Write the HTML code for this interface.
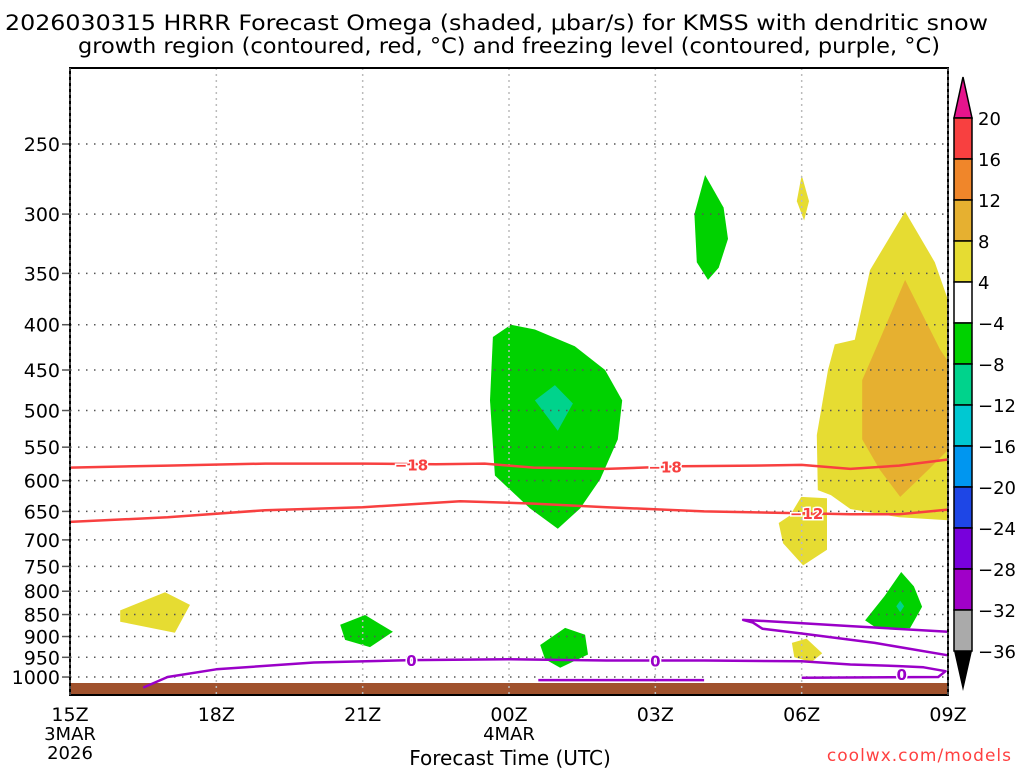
<!DOCTYPE html>
<html><head><meta charset="utf-8">
<style>
body{margin:0;background:#fff;width:1024px;height:768px;overflow:hidden}
svg text{font-family:"DejaVu Sans","Liberation Sans",sans-serif}
</style></head><body>
<svg id="chart" width="1024" height="768" xmlns="http://www.w3.org/2000/svg">
<text x="5" y="30" font-size="21" textLength="983" lengthAdjust="spacingAndGlyphs">2026030315 HRRR Forecast Omega (shaded, μbar/s) for KMSS with dendritic snow</text>
<text x="78" y="53" font-size="21" textLength="862" lengthAdjust="spacingAndGlyphs">growth region (contoured, red, °C) and freezing level (contoured, purple, °C)</text>
<g id="shades"></g><g id="grid"></g><g id="lines"></g><g id="axes"></g><g id="cbar"></g>
<text x="510" y="765" font-size="20" text-anchor="middle">Forecast Time (UTC)</text>
<text x="1012" y="761" font-size="17" fill="#ff4040" text-anchor="end" letter-spacing="1">coolwx.com/models</text>
</svg>
<script>
const pressureTicks=[250,300,350,400,450,500,550,600,650,700,750,800,850,900,950,1000];
const timeTicks=[0,3,6,9,12,15,18];
const timeLabels=["15Z","18Z","21Z","00Z","03Z","06Z","09Z"];
const cbarLevels=["20","16","12","8","4","−4","−8","−12","−16","−20","−24","−28","−32","−36"];
const cbarColors=["#f84040","#f0862a","#e6b030","#e6dc32","#ffffff","#00d200","#00d38c","#00c8d2","#0096f0","#1e46e6","#7800dc","#a000c8","#aaaaaa"];
// shaded regions [hours, hPa]
const yellowLeftH=[1.03,1.95,2.46,2.15,1.03],yellowLeftP=[841,802,829,891,866];
const green21H=[5.54,6.05,6.62,6.15,5.64],green21P=[873,851,889,925,908];
const green00H=[9.04,9.53,10.35,10.97,11.32,11.23,10.87,10.46,10.0,9.43,8.71,8.61,8.67],green00P=[400,405,423,450,487,539,598,645,680,645,592,487,413];
const teal00H=[9.94,10.31,10.0,9.53],teal00P=[468,491,527,487];
const green01H=[9.64,10.15,10.56,10.62,10.05,9.74],green01P=[920,880,896,943,976,955];
const green04H=[13.02,13.4,13.49,13.3,13.08,12.85,12.8],green04P=[271,295,320,345,356,340,300];
const yellowTopH=[15.0,15.15,15.05,14.9],yellowTopP=[271,290,305,290];
const yellowBigH=[17.12,17.73,18,18,17,16,15.6,15.33,15.31,15.54,15.68,16.09,16.4],yellowBigP=[298,340,375,665,660,646,623,615,533,450,421,416,347];
const orangeH=[17.12,17.43,17.84,18,18,17.6,17.02,16.6,16.24,16.24,16.6],orangeP=[356,385,427,440,554,583,626,583,539,462,416];
const yellowMidH=[14.99,15.52,15.52,15.03,14.62,14.53,14.76],yellowMidP=[626,628,718,748,706,670,657];
const yellowLowH=[14.8,15.1,15.42,15.2,14.85],yellowLowP=[915,905,940,962,950];
const greenRH=[17.04,17.3,17.47,17.22,16.54,16.3,16.7],greenRP=[761,790,833,881,881,863,810];
const tealRH=[17.02,17.1,17.02,16.94],tealRP=[820,832,845,832];
// contour lines
const m18H=[0,2,4,6,7.5,8.5,9.5,11,12.5,14,15,16,17,18],m18P=[580,577,574,574,575,574,580,582,578,577,576,582,577,568];
const m12H=[0,2,4,6,8,9.5,11,13,15,16,17,18],m12P=[668,660,648,643,633,637,643,650,653,655,655,647];
const z0H=[1.5,2,3,5,7,9,11,13,15,16,17,17.5,17.95,17.8,15],z0P=[1028,1000,980,963,957,955,958,958,960,968,972,975,985,1000,1002];
const z0bH=[9.6,13],z0bP=[1008,1008];
const z0cH=[18,16,14.5,13.8,14.0,14.2,15,16.5,18],z0cP=[889,876,866,862,868,882,893,915,945];

const L=70,R=948,T=68,B=695;
const X=h=>L+h*(R-L)/18;
const Y=p=>144+(Math.log(p)-Math.log(250))*384.5;
const NS="http://www.w3.org/2000/svg";
function mk(tag,parent,attrs){const e=document.createElementNS(NS,tag);for(const k in attrs)e.setAttribute(k,attrs[k]);document.getElementById(parent).appendChild(e);return e;}
function pts(H,P){return H.map((h,i)=>X(h).toFixed(1)+","+Y(P[i]).toFixed(1)).join(" ");}
function poly(H,P,fill,name){const e=mk("polygon","shades",{points:pts(H,P),fill:fill});

}
poly(yellowLeftH,yellowLeftP,"#e6dc32","omega-yellow-left");
poly(green21H,green21P,"#00d200","omega-green-21z");
poly(green00H,green00P,"#00d200","omega-green-00z");
poly(teal00H,teal00P,"#00d38c","omega-teal-00z");
poly(green01H,green01P,"#00d200","omega-green-01z");
poly(green04H,green04P,"#00d200","omega-green-04z");
poly(yellowTopH,yellowTopP,"#e6dc32","omega-yellow-top");
poly(yellowBigH,yellowBigP,"#e6dc32","omega-yellow-big");
poly(orangeH,orangeP,"#e6b030","omega-orange");
poly(yellowMidH,yellowMidP,"#e6dc32","omega-yellow-mid");
poly(yellowLowH,yellowLowP,"#e6dc32","omega-yellow-low");
poly(greenRH,greenRP,"#00d200","omega-green-right");
poly(tealRH,tealRP,"#00d38c","omega-teal-right");
// ground
const g=mk("rect","shades",{x:L,y:683,width:R-L,height:B-683,fill:"#a0522d"});


// grid
pressureTicks.forEach(p=>{const y=Y(p);
const l=mk("line","grid",{x1:L,x2:R,y1:y,y2:y,stroke:"#555","stroke-dasharray":"1.5 6.5","stroke-width":1.5});


const t=mk("text","axes",{x:60,y:y+7,"font-size":19,"text-anchor":"end"});t.textContent=p;


mk("line","axes",{x1:62,x2:L,y1:y,y2:y,stroke:"#555","stroke-width":1.5});
});
timeTicks.forEach((h,i)=>{const x=X(h);
if(i>0&&i<timeTicks.length-1){const l=mk("line","grid",{x1:x,x2:x,y1:T,y2:B,stroke:"#bbb","stroke-dasharray":"2 4","stroke-width":1.5});

}
const t=mk("text","axes",{x:x,y:721,"font-size":19,"text-anchor":"middle"});t.textContent=timeLabels[i];


});
[["3MAR",0,740],["2026",0,759],["4MAR",9,740]].forEach(a=>{const t=mk("text","axes",{x:X(a[1]),y:a[2],"font-size":18,"text-anchor":"middle"});t.textContent=a[0];

});
// lines
function pl(H,P,color,name,w){const e=mk("polyline","lines",{points:pts(H,P),fill:"none",stroke:color,"stroke-width":w||2.5,"stroke-linejoin":"round"});

}
pl(m18H,m18P,"#f84040","contour-minus18");
pl(m12H,m12P,"#f84040","contour-minus12");
pl(z0H,z0P,"#9a00c8","freezing-level-0");
pl(z0bH,z0bP,"#9a00c8","freezing-level-0-lower");
pl(z0cH,z0cP,"#9a00c8","freezing-level-0-loop");
function lab(h,p,txt,color,name){const x=X(h),y=Y(p);
const t=mk("text","lines",{x:x,y:y+6,"font-size":15,"font-weight":"bold",fill:color,"text-anchor":"middle",stroke:"#fff","stroke-width":3,"paint-order":"stroke"});t.textContent=txt;

}
lab(7.0,575,"−18","#f84040","label-minus18-a");
lab(12.2,578,"−18","#f84040","label-minus18-b");
lab(15.1,653,"−12","#f84040","label-minus12");
lab(7.0,957,"0","#9a00c8","label-zero-a");
lab(12.0,958,"0","#9a00c8","label-zero-b");
lab(17.05,992,"0","#9a00c8","label-zero-c");
// frame
const f=mk("rect","axes",{x:L,y:T,width:R-L,height:B-T,fill:"none",stroke:"#000","stroke-width":2});


mk("line","axes",{x1:L,x2:L,y1:T,y2:B,stroke:"#888","stroke-width":1,"stroke-dasharray":"3 3"});
mk("line","axes",{x1:R,x2:R,y1:T,y2:B,stroke:"#888","stroke-width":1,"stroke-dasharray":"3 3"});
// colorbar
const cx=954,cw=18,c0=118,ch=41;
const tu=mk("polygon","cbar",{points:`${cx},${c0} ${cx+cw},${c0} ${cx+cw/2},77`,fill:"#e6148c",stroke:"#000","stroke-width":1.5});


cbarColors.forEach((c,i)=>{const r=mk("rect","cbar",{x:cx,y:c0+i*ch,width:cw,height:ch,fill:c,stroke:"#000","stroke-width":1.5});

});
const cb=c0+cbarColors.length*ch;
const td=mk("polygon","cbar",{points:`${cx},${cb} ${cx+cw},${cb} ${cx+cw/2},${cb+40}`,fill:"#000"});


cbarLevels.forEach((s,i)=>{const t=mk("text","cbar",{x:978,y:c0+i*ch+7,"font-size":18});t.textContent=s;

});
</script>
</body></html>
